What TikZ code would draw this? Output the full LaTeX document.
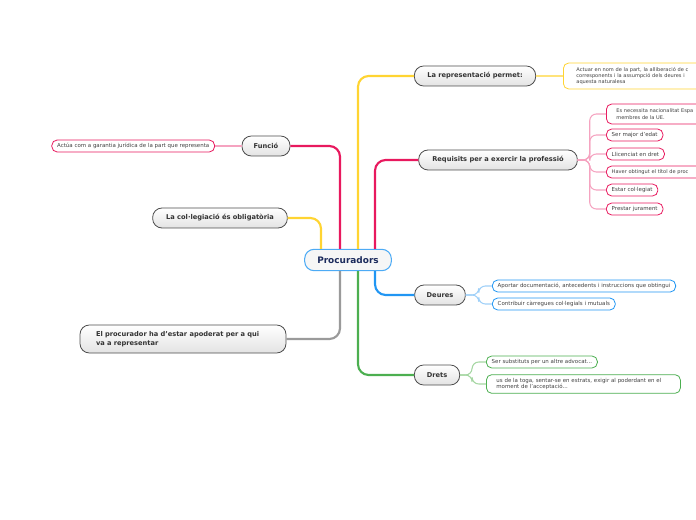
\documentclass[tikz,border=0pt]{standalone}
\usepackage{fontspec}
\setmainfont{DejaVu Sans}
\usetikzlibrary{calc}
\definecolor{gold}{HTML}{FFD432}
\definecolor{goldlt}{HTML}{FFE37A}
\definecolor{rose}{HTML}{E8195E}
\definecolor{roselt}{HTML}{F5A3C0}
\definecolor{sky}{HTML}{2196F3}
\definecolor{skylt}{HTML}{9FD0F8}
\definecolor{grass}{HTML}{4CAF50}
\definecolor{grasslt}{HTML}{A5D6A2}
\definecolor{ash}{HTML}{9A9A9A}
\definecolor{navyblue}{HTML}{1B2A5C}
\tikzset{
  root/.style={draw=sky!80, line width=0.8pt, fill=gray!7, rounded corners=7pt,
    minimum width=65pt, minimum height=16pt, text=navyblue,
    font=\fontsize{6.7}{8}\selectfont\bfseries},
  topic/.style={draw=gray!60!black, line width=0.6pt, rounded corners=7pt,
    top color=white, bottom color=gray!22, minimum height=15pt, text=black!80,
    font=\fontsize{5}{6.3}\selectfont\bfseries},
  note/.style={draw, line width=0.6pt, fill=white, rounded corners=4pt,
    minimum height=9pt, inner xsep=4pt, inner ysep=1.5pt, align=left, text=black!75,
    font=\fontsize{4.1}{5}\selectfont},
  edge/.style={font=\fontsize{3.8}{4.8}\selectfont},
  trunk/.style={line width=1.6pt, rounded corners=8pt},
  twig/.style={line width=0.8pt, rounded corners=5pt},
}
\begin{document}
\begin{tikzpicture}[x=0.75pt,y=-0.75pt]
  \useasboundingbox (0,0) rectangle (696,520);
  \clip (0,0) rectangle (696,520);
  % centre and main topics
  \node[root] (proc) at (348,260) {Procuradors};
  \node[topic, minimum width=91pt] (repr) at (475,76) {La representació permet:};
  \node[topic, minimum width=119pt] (req) at (498,160) {Requisits per a exercir la professió};
  \node[topic, minimum width=38pt] (deu) at (440,295) {Deures};
  \node[topic, minimum width=34pt] (dre) at (437,375) {Drets};
  \node[topic, minimum width=36pt] (fun) at (266,146) {Funció};
  \node[topic, minimum width=101pt] (col) at (220,218) {La col·legiació és obligatòria};
  \node[topic, minimum height=21pt, inner xsep=12pt, text width=130.5pt, align=left] (apo) at (183,339)
    {El procurador ha d'estar apoderat per a qui\\va a representar};
  % leaves
  \node[note, edge, draw=gold, anchor=west, minimum height=19.5pt, inner xsep=9.75pt, text width=120pt] (repr1) at (563,76)
    {Actuar en nom de la part, la alliberació de c\\corresponents i la assumpció dels deures i\\aquesta naturalesa};
  \node[note, edge, draw=rose, anchor=west, minimum height=15pt, inner xsep=7.5pt, text width=80pt] (r1) at (606,114)
    {Es necessita nacionalitat Espa\\membres de la UE.};
  \node[note, draw=rose, anchor=west] (r2) at (606,135) {Ser major d'edat};
  \node[note, draw=rose, anchor=west] (r3) at (606,154) {Llicenciat en dret};
  \node[note, edge, draw=rose, anchor=west, text width=80pt] (r4) at (606,172) {Haver obtingut el títol de proc};
  \node[note, draw=rose, anchor=west] (r5) at (606,190) {Estar col·legiat};
  \node[note, draw=rose, anchor=west] (r6) at (606,209) {Prestar jurament};
  \node[note, draw=rose, anchor=east] (fun1) at (215,146) {Actúa com a garantia jurídica de la part que representa};
  \node[note, draw=sky, anchor=west] (deu1) at (492,286) {Aportar documentació, antecedents i instruccions que obtingui};
  \node[note, draw=sky, anchor=west] (deu2) at (492,304) {Contribuir càrregues col·legials i mutuals};
  \node[note, draw=grass, anchor=west] (dre1) at (486,362) {Ser substituts per un altre advocat...};
  \node[note, draw=grass, anchor=west, minimum height=14pt, inner xsep=7.5pt, text width=130.5pt] (dre2) at (486,384)
    {us de la toga, sentar-se en estrats, exigir al poderdant en el\\moment de l'acceptació...};
  % branches
  \draw[trunk, gold] ($(proc.north)+(10,0)$) |- (repr.west);
  \draw[trunk, rose] ($(proc.north)+(27,0)$) |- (req.west);
  \draw[trunk, sky] ($(proc.south)+(27,0)$) |- (deu.west);
  \draw[trunk, grass] ($(proc.south)+(10,0)$) |- (dre.west);
  \draw[trunk, rose] ($(proc.north)+(-8,0)$) |- (fun.east);
  \draw[trunk, gold] ($(proc.north)+(-27,0)$) |- (col.east);
  \draw[trunk, ash] ($(proc.south)+(-8,0)$) |- (apo.east);
  \draw[twig, goldlt] (repr.east) -- (repr1.west);
  \draw[twig, roselt] (fun.west) -- (fun1.east);
  \foreach \n in {r1,r2,r3,r4,r5,r6}
    \draw[twig, roselt] (req.east) -- ++(12,0) |- (\n.west);
  \foreach \n in {deu1,deu2}
    \draw[twig, skylt] (deu.east) -- ++(13,0) |- (\n.west);
  \foreach \n in {dre1,dre2}
    \draw[twig, grasslt] (dre.east) -- ++(12,0) |- (\n.west);
\end{tikzpicture}
\end{document}
